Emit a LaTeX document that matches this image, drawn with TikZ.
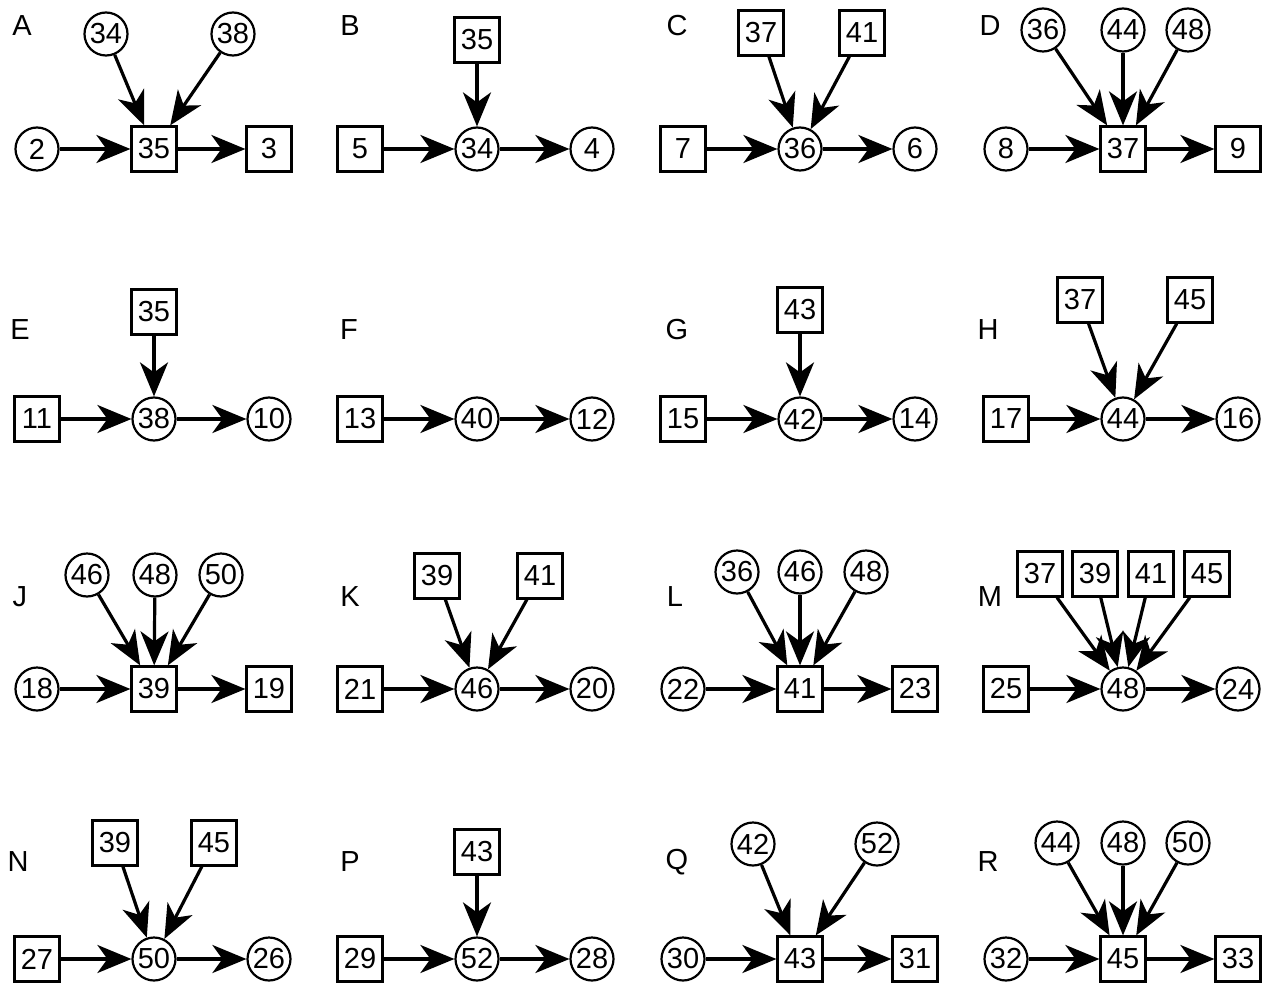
\documentclass[tikz,border=0pt]{standalone}
\usepackage{fontspec}
\setmainfont{Liberation Sans}
\usepackage{tikz}
\usetikzlibrary{arrows.meta}

\tikzset{
  circ/.style={draw, circle, line width=1.1pt, minimum size=21.5pt, inner sep=0pt},
  sq/.style={draw, rectangle, line width=1.1pt, minimum size=22.5pt, inner sep=0pt},
  arr/.style={-{Stealth[length=17pt,width=14pt,inset=5pt]}, line width=1.6pt},
}

\begin{document}
\begin{tikzpicture}[x=0.5pt, y=-0.5pt, font=\fontsize{14.5}{17}\selectfont]
  \useasboundingbox (0,0) rectangle (1262,984);
  % panel letters
  \foreach \lab/\x/\y in {A/22/26, B/350/26, C/677/26, D/990/26,
                          E/20/330, F/349/330, G/677/330, H/988/330,
                          J/20/597, K/350/597, L/675/597, M/990/597,
                          N/18/862, P/350/862, Q/677/862, R/988/862}
    \node (lab\lab) at (\x,\y) {\lab};
  % left -> centre -> right
  \foreach \p/\x/\y/\ls/\cs/\l/\c/\r in {
      A/37/149/circ/sq/2/35/3,    B/360/149/sq/circ/5/34/4,
      C/683/149/sq/circ/7/36/6,   D/1006/149/circ/sq/8/37/9,
      E/37/419/sq/circ/11/38/10,  F/360/419/sq/circ/13/40/12,
      G/683/419/sq/circ/15/42/14, H/1006/419/sq/circ/17/44/16,
      J/37/689/circ/sq/18/39/19,  K/360/689/sq/circ/21/46/20,
      L/683/689/circ/sq/22/41/23, M/1006/689/sq/circ/25/48/24,
      N/37/959/sq/circ/27/50/26,  P/360/959/sq/circ/29/52/28,
      Q/683/959/circ/sq/30/43/31, R/1006/959/circ/sq/32/45/33} {
    \node[\ls] (\p-l) at (\x,\y) {\l};
    \node[\cs] (\p-c) at (\x+117,\y) {\c};
    \node[\cs] (\p-r) at (\x+232,\y) {\r};
    \draw[arr] (\p-l) -- (\p-c);
    \draw[arr] (\p-c) -- (\p-r);
  }
  % inputs from above
  \foreach \p/\t/\x/\y/\s in {
      A/34/106/34/circ, A/38/233/34/circ,
      B/35/477/40/sq,
      C/37/761/33/sq, C/41/862/33/sq,
      D/36/1043/30/circ, D/44/1123/30/circ, D/48/1188/30/circ,
      E/35/154/312/sq,
      G/43/800/310/sq,
      H/37/1080/300/sq, H/45/1190/300/sq,
      J/46/87/575/circ, J/48/155/575/circ, J/50/221/575/circ,
      K/39/437/576/sq, K/41/540/576/sq,
      L/36/737/572/circ, L/46/800/572/circ, L/48/866/572/circ,
      M/37/1040/574/sq, M/39/1095/574/sq, M/41/1151/574/sq, M/45/1207/574/sq,
      N/39/115/843/sq, N/45/214/843/sq,
      P/43/477/852/sq,
      Q/42/753/844/circ, Q/52/877/844/circ,
      R/44/1057/843/circ, R/48/1123/843/circ, R/50/1188/843/circ} {
    \node[\s] (\p-\t) at (\x,\y) {\t};
    \draw[arr] (\p-\t) -- (\p-c);
  }
\end{tikzpicture}
\end{document}
